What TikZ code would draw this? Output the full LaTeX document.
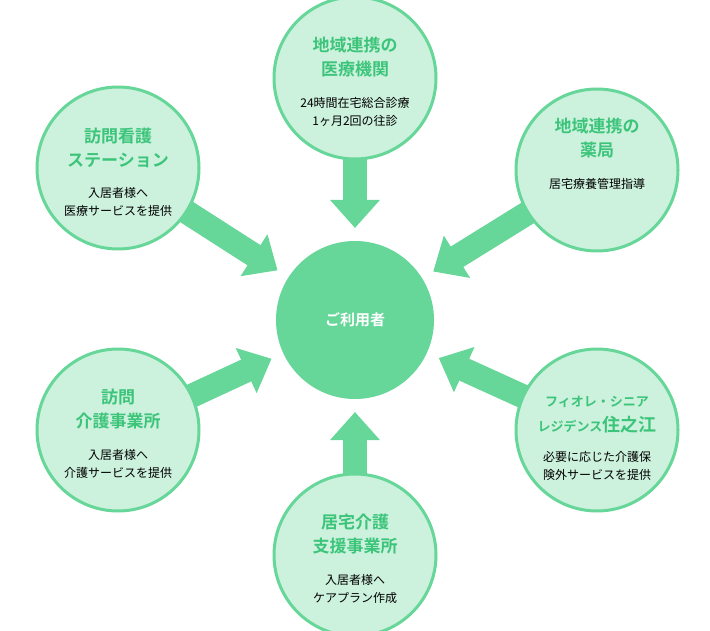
\documentclass[tikz,border=0pt]{standalone}
\usepackage{fontspec}
\setmainfont{Noto Sans CJK JP}
\newfontfamily\jpb{Noto Sans CJK JP Bold}
\usetikzlibrary{arrows.meta}
\definecolor{ring}{HTML}{66D699}
\definecolor{pale}{HTML}{CCF1DD}
\definecolor{ttl}{HTML}{3CC57A}
\begin{document}
\begin{tikzpicture}[x=1pt,y=-1pt,
 outer/.style={circle,draw=ring,line width=3pt,fill=pale,minimum size=162pt,inner sep=0pt},
 ttlf/.style={align=center,font=\jpb\fontsize{17}{24}\selectfont,text=ttl,anchor=south},
 body/.style={align=center,font=\fontsize{12}{18}\selectfont,anchor=north},
 big/.style={-{Triangle[width=48pt,length=28pt]},line width=24pt,draw=ring}]
\useasboundingbox (0,0) rectangle (710,631);
\coordinate (c0) at (355,320);
\coordinate (p1) at (355,78);
\coordinate (p2) at (118,168);
\coordinate (p3) at (597,170);
\coordinate (p4) at (118,430);
\coordinate (p5) at (597,430);
\coordinate (p6) at (355,555);
\draw[big,shorten >=92pt,shorten <=76pt] (p1) -- (c0);
\draw[big,shorten >=92pt,shorten <=70pt] (p2) -- (c0);
\draw[big,shorten >=92pt,shorten <=70pt] (p3) -- (c0);
\draw[big,shorten >=92pt,shorten <=70pt] (p4) -- (c0);
\draw[big,shorten >=92pt,shorten <=70pt] (p5) -- (c0);
\draw[big,shorten >=92pt,shorten <=76pt] (p6) -- (c0);
\node[outer] (nt) at (p1) {};
\node[outer] (ntl) at (p2) {};
\node[outer] (ntr) at (p3) {};
\node[outer] (nbl) at (p4) {};
\node[outer] (nbr) at (p5) {};
\node[outer] (nb) at (p6) {};
\node[circle,fill=ring,minimum size=158pt,text=white,font=\jpb\fontsize{15}{18}\selectfont] (cc) at (c0) {ご利用者};
\node[ttlf] (t1) at ([yshift=-3pt]nt.center) {地域連携の\\医療機関};
\node[body] (b1) at ([yshift=-16pt]nt.center) {24時間在宅総合診療\\1ヶ月2回の往診};
\node[ttlf] (t2) at ([yshift=-3pt]ntl.center) {訪問看護\\ステーション};
\node[body] (b2) at ([yshift=-16pt]ntl.center) {入居者様へ\\医療サービスを提供};
\node[ttlf] (t3) at ([yshift=8pt]ntr.center) {地域連携の\\薬局};
\node[body] (b3) at ([yshift=-5pt]ntr.center) {居宅療養管理指導};
\node[ttlf] (t4) at ([yshift=-3pt]nbl.center) {訪問\\介護事業所};
\node[body] (b4) at ([yshift=-16pt]nbl.center) {入居者様へ\\介護サービスを提供};
\node[ttlf,font=\jpb\fontsize{13}{25}\selectfont] (t5) at ([yshift=-7pt]nbr.center) {フィオレ・シニア\\レジデンス{\fontsize{18}{22}\selectfont 住之江}};
\node[body] (b5) at ([yshift=-18pt]nbr.center) {必要に応じた介護保\\険外サービスを提供};
\node[ttlf] (t6) at ([yshift=-3pt]nb.center) {居宅介護\\支援事業所};
\node[body] (b6) at ([yshift=-16pt]nb.center) {入居者様へ\\ケアプラン作成};
\end{tikzpicture}
\end{document}
